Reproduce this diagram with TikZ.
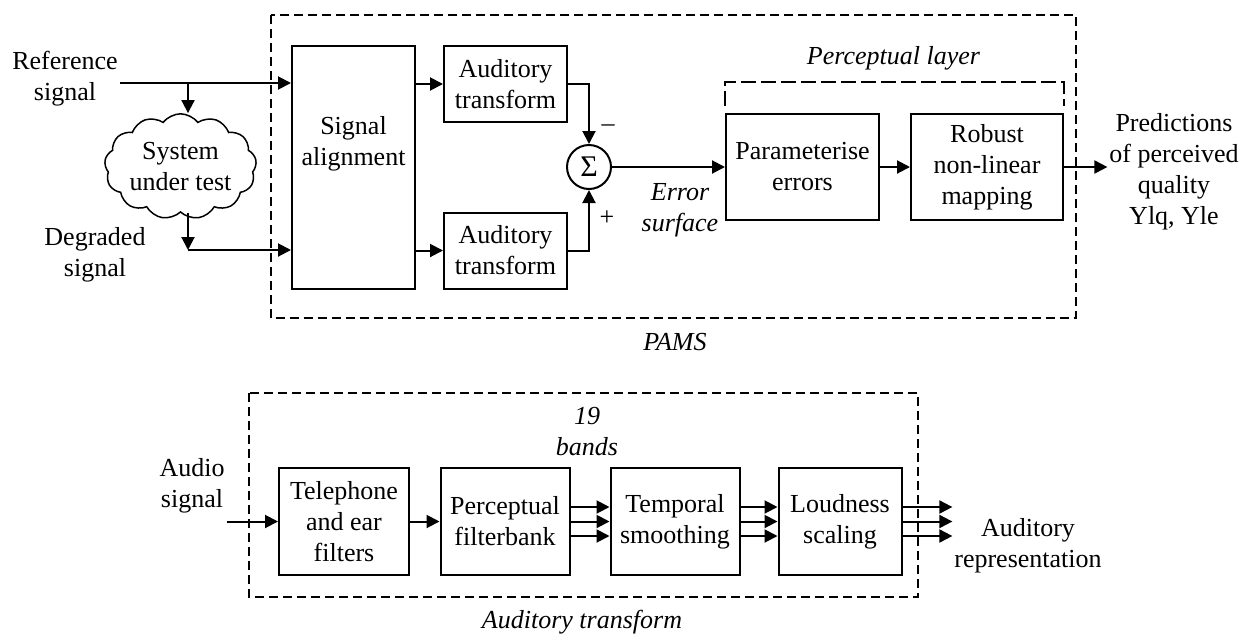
\documentclass[tikz,border=0pt]{standalone}
\usepackage{fontspec}
\setmainfont{Liberation Serif}
\usepackage{tikz}
\usetikzlibrary{positioning, arrows.meta, shapes.symbols}
\newcommand{\figfont}{\fontsize{26}{31}\selectfont}

\begin{document}
\begin{tikzpicture}[
		x=1pt, y=-1pt,
		line width=2pt,
		every node/.style={font=\figfont, align=center, inner sep=1pt},
		>={Triangle[length=13pt, width=13pt]},
		block/.style={draw, minimum width=123pt, minimum height=107pt},
		note/.style={font=\figfont\itshape},
		pams/.style={draw, dash pattern=on 9pt off 5pt},
		layer/.style={draw, dash pattern=on 15pt off 5pt}
	]
	\useasboundingbox (0,0) rectangle (1242,633);

	% PAMS
	\node (RefSignal) at (65,79) {Reference\\signal};
	\node (DegSignal) at (95,255) {Degraded\\signal};
	\node[cloud, draw, line width=1.5pt, cloud puffs=13, cloud puff arc=105, aspect=1.6, inner sep=0.5pt] (SystemUnderTest) at (180.5,166.5) {System\\under test};
	\coordinate (RefSplit) at (188,83);
	\coordinate (DegSplit) at (188,250);
	\node[block, minimum height=243pt] (SignalAlignment) at (353.5,167.5) {};
	\node at ([yshift=23.5pt]SignalAlignment.center) {Signal\\alignment};
	\node[block, minimum height=76pt] (AudTransformRef) at (505.5,84) {Auditory\\transform};
	\node[block, minimum height=76pt] (AudTransformDeg) at (505.5,250.5) {Auditory\\transform};
	\node[draw, circle, minimum size=44pt, inner sep=0pt, font=\fontsize{30}{36}\selectfont] (Sum) at (589,167) {Σ};
	\node (Minus) at (608,128) {–};
	\node (Plus) at (607,218) {+};
	\node[note] (ErrorSurface) at (680,210) {Error\\surface};
	\node[block, minimum width=153pt, minimum height=106pt] (Parameterise) at (802.5,167) {Parameterise\\errors};
	\node[block, minimum width=152pt, minimum height=106pt, right=30pt of Parameterise] (Robust) {Robust\\non-linear\\mapping};
	\node (Predictions) at (1174,171.5) {Predictions\\of perceived\\quality\\Ylq, Yle};
	\node[note] (PerceptualLayer) at (893.5,58) {Perceptual layer};
	\node[note] (PAMS) at (675,342) {PAMS};
	\draw[pams] (270.7,15) rectangle (1076,318);
	\draw[layer] ([yshift=7pt]Parameterise.north west) -- ([yshift=31pt]Parameterise.north west)
		-- ([yshift=31pt]Robust.north east) -- ([yshift=7pt]Robust.north east);

	\draw[->] (RefSignal.east |- RefSplit) -- (RefSplit -| SignalAlignment.west);
	\draw[->] (RefSplit) -- (RefSplit |- SystemUnderTest.north);
	\draw[->] (SystemUnderTest.south -| DegSplit) -- (DegSplit);
	\draw[->] (DegSplit) -- (DegSplit -| SignalAlignment.west);
	\draw[->] (AudTransformRef.west -| SignalAlignment.east) -- (AudTransformRef.west);
	\draw[->] (AudTransformDeg.west -| SignalAlignment.east) -- (AudTransformDeg.west);
	\draw[->] (AudTransformRef.east) -| (Sum.north);
	\draw[->] (AudTransformDeg.east) -| (Sum.south);
	\draw[->] (Sum.east) -- (Parameterise.west);
	\draw[->] (Parameterise) -- (Robust);
	\draw[->] (Robust.east) -- (Robust.east -| Predictions.west);

	% Auditory transform
	\draw[pams] (249,393) rectangle (918,597);
	\node (AudioSignal) at (192,486) {Audio\\signal};
	\node[block, minimum width=130pt] (Telephone) at (344,521.5) {Telephone\\and ear\\filters};
	\node[block, minimum width=129pt, right=29.5pt of Telephone] (Filterbank) {Perceptual\\filterbank};
	\node[block, minimum width=129pt, right=39pt of Filterbank] (Smoothing) {Temporal\\smoothing};
	\node[block, right=37pt of Smoothing] (Loudness) {Loudness\\scaling};
	\node (AudRep) at (1028,546) {Auditory\\representation};
	\node[note] (Bands) at (587,431.5) {19\\bands};
	\node[note] (AudTransform) at (582,622) {Auditory transform};
	\coordinate (RepIn) at (AudRep.west |- Loudness.east);

	\draw[->] (AudioSignal.east |- Telephone) -- (Telephone);
	\draw[->] (Telephone) -- (Filterbank);
	\foreach \dy in {-14.5,0,14.5} {
		\draw[->] ([yshift=\dy pt]Filterbank.east) -- ([yshift=\dy pt]Smoothing.west);
		\draw[->] ([yshift=\dy pt]Smoothing.east) -- ([yshift=\dy pt]Loudness.west);
		\draw[->] ([yshift=\dy pt]Loudness.east) -- ([yshift=\dy pt]RepIn);
	}
\end{tikzpicture}
\end{document}
